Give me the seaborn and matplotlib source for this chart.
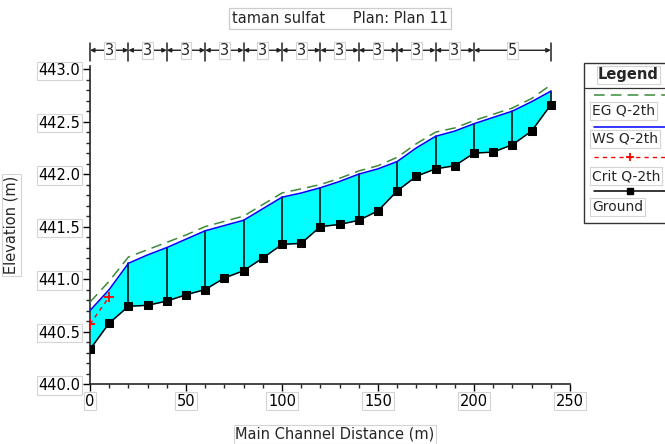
"""HEC-RAS style longitudinal profile: taman sulfat, Plan 11."""
import matplotlib
matplotlib.use("Agg")
import matplotlib.pyplot as plt
import matplotlib.ticker as mticker
from matplotlib.lines import Line2D
from matplotlib.patches import Rectangle
import pandas as pd
import seaborn as sns

# ── data ─────────────────────────────────────────────────────────────────
station = [0, 10, 20, 30, 40, 50, 60, 70, 80, 90, 100, 110, 120,
           130, 140, 150, 160, 170, 180, 190, 200, 210, 220, 230, 240]
ground = [440.33, 440.58, 440.74, 440.75, 440.79, 440.85, 440.90, 441.01,
          441.08, 441.20, 441.33, 441.34, 441.50, 441.52, 441.56, 441.65,
          441.84, 441.98, 442.05, 442.08, 442.20, 442.21, 442.28, 442.41,
          442.66]
ws = [440.70, 440.90, 441.15, 441.23, 441.30, 441.38, 441.46, 441.51,
      441.56, 441.67, 441.78, 441.82, 441.87, 441.93, 442.00, 442.05,
      442.12, 442.25, 442.36, 442.41, 442.48, 442.54, 442.60, 442.69,
      442.79]
eg = [440.78, 440.98, 441.21, 441.28, 441.35, 441.42, 441.50, 441.55,
      441.60, 441.71, 441.82, 441.86, 441.90, 441.96, 442.03, 442.08,
      442.16, 442.29, 442.40, 442.44, 442.51, 442.57, 442.63, 442.72,
      442.85]
crit_station = [0, 10]
crit = [440.57, 440.83]
section_marks = [20, 40, 60, 80, 100, 120, 140, 160, 180, 200, 220, 240]
bar_edges = [0, 20, 40, 60, 80, 100, 120, 140, 160, 180, 200, 240]
bar_labels = ["3", "3", "3", "3", "3", "3", "3", "3", "3", "3", "5"]
title_text = "taman sulfat      Plan: Plan 11"
legend_labels = ["EG Q-2th", "WS Q-2th", "Crit Q-2th", "Ground"]

df = pd.DataFrame({"station": station, "ground": ground, "ws": ws, "eg": eg})
df_crit = pd.DataFrame({"station": crit_station, "crit": crit})

sns.set_style("ticks")
plt.rcParams["font.family"] = ["DejaVu Sans"]
plt.rcParams["font.size"] = 10.5

FS = 10.5
GREEN = "#3c8a3c"
BLUE = "#0000ff"
RED = "#ff0000"
BOX = dict(facecolor="white", edgecolor="#d4d4d4", linewidth=0.8, pad=1.2)

fig = plt.figure(figsize=(6.65, 4.44), dpi=100)
ax = fig.add_axes([90 / 665, 60 / 444, 480 / 665, 318 / 444])

# water body
ax.fill_between(df["station"], df["ground"], df["ws"], color="#00ffff",
                linewidth=0, zorder=1)
ws_at = dict(zip(station, ws))
gr_at = dict(zip(station, ground))
for s in section_marks:
    ax.plot([s, s], [gr_at[s], ws_at[s]], color="black", lw=1.1, zorder=2)

eg_style = dict(color=GREEN, lw=1.1, dashes=(7, 4))
ws_style = dict(color=BLUE, lw=1.1)
crit_style = dict(color=RED, lw=1.0, dashes=(3, 3), marker="+", ms=7,
                  mew=1.3, mec=RED)
gr_style = dict(color="black", lw=1.1, marker="s", ms=5.5, mec="black",
                mfc="black")

sns.lineplot(data=df, x="station", y="eg", ax=ax, zorder=4, **eg_style)
sns.lineplot(data=df, x="station", y="ws", ax=ax, zorder=4, **ws_style)
sns.lineplot(data=df_crit, x="station", y="crit", ax=ax, zorder=5,
             **crit_style)
sns.lineplot(data=df, x="station", y="ground", ax=ax, zorder=5, **gr_style)

ax.set_xlim(0, 250)
ax.set_ylim(440.0, 443.03)
ax.xaxis.set_major_locator(mticker.MultipleLocator(50))
ax.xaxis.set_minor_locator(mticker.MultipleLocator(10))
ax.yaxis.set_major_locator(mticker.MultipleLocator(0.5))
ax.yaxis.set_minor_locator(mticker.MultipleLocator(0.1))
ax.yaxis.set_major_formatter(mticker.FormatStrFormatter("%.1f"))
ax.tick_params(which="major", direction="out", length=5, width=1,
               labelsize=FS, colors="black", pad=2)
ax.tick_params(which="minor", direction="out", length=3, width=1)
for side in ["top", "right"]:
    ax.spines[side].set_visible(False)
for side in ["left", "bottom"]:
    ax.spines[side].set_linewidth(1.2)
for lbl in ax.get_xticklabels() + ax.get_yticklabels():
    lbl.set_bbox(BOX)
ax.set_xlabel("Main Channel Distance (m)", fontsize=FS, bbox=BOX)
ax.set_ylabel("Elevation (m)", fontsize=FS, bbox=BOX)
ax.xaxis.set_label_coords(0.51, -0.135)
ax.yaxis.set_label_coords(-0.148, 0.5)

# reach-length bar above the plot
bar_y = 443.18
for a, b, lab in zip(bar_edges[:-1], bar_edges[1:], bar_labels):
    ax.annotate("", xy=(a, bar_y), xytext=(b, bar_y), annotation_clip=False,
                arrowprops=dict(arrowstyle="<|-|>", color="#222222", lw=1,
                                mutation_scale=6, shrinkA=0, shrinkB=0))
    ax.text((a + b) / 2, bar_y, lab, ha="center", va="center", fontsize=FS,
            clip_on=False, bbox=dict(facecolor="white", edgecolor="#d4d4d4",
                                     linewidth=0.8, pad=0.6), zorder=6)
for e in bar_edges:
    ax.plot([e, e], [443.08, 443.25], color="#222222", lw=1.1,
            clip_on=False)

fig.text(0.511, 0.959, title_text, ha="center", va="center", fontsize=FS,
         bbox=dict(facecolor="white", edgecolor="#cccccc", linewidth=0.9,
                   boxstyle="square,pad=0.2"))

# legend panel (runs off the right edge like the original)
fw, fh = 665, 444
fig.add_artist(Rectangle((584 / fw, 1 - 223 / fh), 100 / fw, 160 / fh,
                         transform=fig.transFigure, facecolor="white",
                         edgecolor="#333333", lw=1.0))
fig.text(598 / fw, 1 - 75 / fh, "Legend", fontsize=FS, fontweight="bold",
         va="center", ha="left",
         bbox=dict(facecolor="white", edgecolor="#d4d4d4", lw=0.8, pad=1))
fig.add_artist(Line2D([584 / fw, 700 / fw], [1 - 88 / fh] * 2,
                      transform=fig.transFigure, color="#333333", lw=0.9))
entries = [(eg_style, 95, 111), (ws_style, 127, 139),
           (crit_style, 157, 176), (gr_style, 191, 207)]
for (style, ly, ty), lab in zip(entries, legend_labels):
    line_kw = {k: v for k, v in style.items() if k in ("color", "lw", "dashes")}
    fig.add_artist(Line2D([594 / fw, 700 / fw], [1 - ly / fh] * 2,
                          transform=fig.transFigure, **line_kw))
    if "marker" in style:
        fig.add_artist(Line2D([630 / fw], [1 - ly / fh],
                              transform=fig.transFigure, color=style["color"],
                              marker=style["marker"],
                              ms=style.get("ms", 6) * 0.9,
                              mew=style.get("mew", 1), lw=0))
    fig.text(592 / fw, 1 - ty / fh, lab, fontsize=10, va="center",
             ha="left", bbox=BOX)

fig.savefig("out.png", dpi=100)
